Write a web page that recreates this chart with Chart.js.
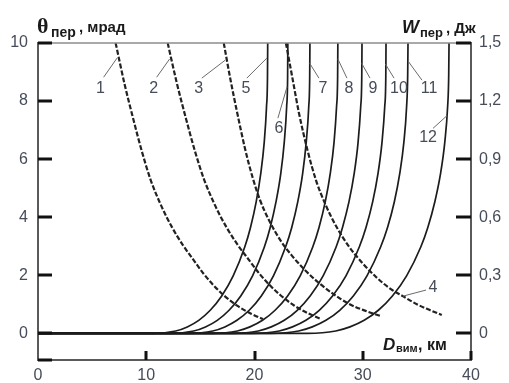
<!DOCTYPE html>
<html>
<head>
<meta charset="utf-8">
<script src="https://cdn.jsdelivr.net/npm/chart.js@4.4.1/dist/chart.umd.min.js"></script>
<style>
  html, body { margin: 0; padding: 0; background: #fff; }
  #wrap { width: 509px; height: 383px; }
</style>
</head>
<body>
<div id="wrap"><canvas id="chart"></canvas></div>
<script>
// Деления осей
const xTicks = [0, 10, 20, 30, 40];               // D вим, км
const thetaTicks = [0, 2, 4, 6, 8, 10];           // θ пер, мрад
const energyTicks = [0, 0.3, 0.6, 0.9, 1.2, 1.5]; // W пер, Дж

// Угол θпер (штриховые, левая ось): [D, θ]
const theta1 = [[7.17,10],[8.0,8.58],[8.83,7.34],[9.6,6.26],[10.41,5.28],[11.4,4.38],[12.4,3.64],[13.4,3.03],[14.38,2.52],[15.3,2.05],[16.2,1.66],[17.16,1.31],[18.4,0.95],[19.6,0.69],[20.77,0.49]];
const theta2 = [[11.98,10],[12.85,8.58],[13.71,7.34],[14.51,6.26],[15.36,5.28],[16.39,4.38],[17.43,3.64],[18.48,3.03],[19.5,2.52],[20.46,2.05],[21.4,1.66],[22.4,1.31],[23.69,0.95],[24.94,0.69],[26.16,0.49]];
const theta3 = [[17.16,10],[17.8,8.7],[18.4,7.6],[19.1,6.4],[19.8,5.4],[20.5,4.6],[21.4,3.85],[22.4,3.2],[23.4,2.7],[24.6,2.2],[25.9,1.75],[27.3,1.35],[28.8,1.0],[30.2,0.78],[31.6,0.6]];
const theta4 = [[22.9,10],[23.5,8.8],[24.1,7.6],[24.9,6.3],[25.7,5.25],[26.6,4.4],[27.6,3.65],[28.7,3.0],[29.9,2.45],[31.2,1.95],[32.6,1.52],[33.7,1.28],[35.0,1.0],[36.2,0.8],[37.3,0.63]];

// Энергия Wпер (сплошные, правая ось): значения W в узлах и дальности D для каждой кривой
const energyW  = [0, 0, 0.012, 0.033, 0.067, 0.119, 0.193, 0.297, 0.446, 0.547, 0.68, 0.826, 0.988, 1.171, 1.329, 1.5];
const range5  = [0, 10.6,  12.72, 13.79, 14.85, 15.91, 16.97, 18.03, 19.10, 19.63, 20.16, 20.58, 20.90, 21.11, 21.20, 21.22];
const range6  = [0, 12.21, 14.38, 15.47, 16.56, 17.65, 18.73, 19.82, 20.91, 21.45, 21.99, 22.43, 22.75, 22.97, 23.06, 23.08];
const range7  = [0, 13.89, 16.14, 17.26, 18.38, 19.51, 20.63, 21.75, 22.87, 23.44, 24.00, 24.45, 24.78, 25.01, 25.10, 25.12];
const range8  = [0, 16.1,  18.42, 19.58, 20.74, 21.90, 23.06, 24.22, 25.38, 25.96, 26.54, 27.00, 27.35, 27.58, 27.68, 27.70];
const range9  = [0, 17.96, 20.35, 21.55, 22.75, 23.95, 25.14, 26.34, 27.54, 28.13, 28.73, 29.21, 29.57, 29.81, 29.91, 29.93];
const range10 = [0, 19.81, 22.28, 23.51, 24.75, 25.98, 27.21, 28.45, 29.68, 30.30, 30.92, 31.41, 31.78, 32.03, 32.13, 32.15];
const range11 = [0, 21.55, 24.08, 25.34, 26.60, 27.87, 29.13, 30.39, 31.65, 32.29, 32.92, 33.42, 33.80, 34.05, 34.15, 34.18];
const range12 = [0, 24.9,  27.51, 28.82, 30.13, 31.44, 32.74, 34.05, 35.36, 36.01, 36.66, 37.19, 37.58, 37.84, 37.94, 37.97];

// Номера кривых: текст, точка подписи и выноска (в единицах D и θ)
const curveLabels = [
  { text: '1',  at: [5.78, 8.44],  from: [6.06, 8.82],  to: [7.3, 9.48] },
  { text: '2',  at: [10.68, 8.44], from: [10.96, 8.82], to: [12.16, 9.45] },
  { text: '3',  at: [14.85, 8.44], from: [15.13, 8.79], to: [17.3, 9.41] },
  { text: '5',  at: [19.2, 8.44],  from: [19.29, 8.79], to: [21.14, 9.48] },
  { text: '6',  at: [22.25, 7.06], from: [22.16, 7.41], to: [23.0, 8.48] },
  { text: '7',  at: [26.32, 8.44], from: [25.95, 8.79], to: [25.1, 9.3] },
  { text: '8',  at: [28.72, 8.44], from: [28.54, 8.79], to: [27.7, 9.45] },
  { text: '9',  at: [30.94, 8.44], from: [30.67, 8.79], to: [29.9, 9.3] },
  { text: '10', at: [33.35, 8.44], from: [32.89, 8.79], to: [32.1, 9.27] },
  { text: '11', at: [36.12, 8.44], from: [35.47, 8.72], to: [34.2, 9.37] },
  { text: '12', at: [36.03, 6.75], from: [36.49, 7.06], to: [37.79, 7.5] },
  { text: '4',  at: [36.49, 1.59], from: [35.85, 1.49], to: [33.72, 1.28] }
];

const LINE = '#1c1c1c';
const TEXT = '#464c58';
const SANS = '"Liberation Sans", Arial, sans-serif';

const toPoints = arr => arr.map(p => ({ x: p[0], y: p[1] }));
const zipPoints = (xs, ys) => xs.map((x, i) => ({ x, y: ys[i] }));

const dashed = (data) => ({
  data: toPoints(data), yAxisID: 'y',
  borderColor: '#222', borderWidth: 2.2, borderDash: [5, 2],
  pointRadius: 0, cubicInterpolationMode: 'monotone'
});
const solid = (xs) => ({
  data: zipPoints(xs, energyW), yAxisID: 'y1',
  borderColor: LINE, borderWidth: 1.7,
  pointRadius: 0, cubicInterpolationMode: 'monotone'
});

const datasets = [
  dashed(theta1), dashed(theta2), dashed(theta3), dashed(theta4),
  solid(range5), solid(range6), solid(range7), solid(range8),
  solid(range9), solid(range10), solid(range11), solid(range12)
];

// Засечки внутрь, верхняя рамка, подписи кривых и осей
const overlay = {
  id: 'overlay',
  afterDatasetsDraw(chart) {
    const { ctx, chartArea: a, scales } = chart;
    const sx = scales.x, sy = scales.y, sy1 = scales.y1;
    ctx.save();

    ctx.strokeStyle = '#8c8c8c';
    ctx.lineWidth = 1.5;
    ctx.beginPath();
    ctx.moveTo(a.left, a.top);
    ctx.lineTo(a.right, a.top);
    ctx.stroke();

    ctx.strokeStyle = '#111';
    ctx.lineWidth = 3;
    ctx.beginPath();
    thetaTicks.forEach(v => {
      const py = Math.round(sy.getPixelForValue(v));
      ctx.moveTo(a.left, py); ctx.lineTo(a.left + 14, py);
    });
    ctx.moveTo(a.left, a.bottom); ctx.lineTo(a.left + 14, a.bottom);
    energyTicks.forEach(v => {
      const py = Math.round(sy1.getPixelForValue(v));
      ctx.moveTo(a.right - 15, py); ctx.lineTo(a.right, py);
    });
    xTicks.slice(1).forEach(v => {
      const px = Math.round(sx.getPixelForValue(v));
      ctx.moveTo(px, a.bottom); ctx.lineTo(px, a.bottom - 9);
    });
    ctx.stroke();

    // выноски и номера
    ctx.strokeStyle = '#6a6a6a';
    ctx.lineWidth = 1;
    ctx.fillStyle = TEXT;
    ctx.font = '16px ' + SANS;
    ctx.textAlign = 'center';
    ctx.textBaseline = 'middle';
    curveLabels.forEach(l => {
      ctx.beginPath();
      ctx.moveTo(sx.getPixelForValue(l.from[0]), sy.getPixelForValue(l.from[1]));
      ctx.lineTo(sx.getPixelForValue(l.to[0]), sy.getPixelForValue(l.to[1]));
      ctx.stroke();
      ctx.fillText(l.text, sx.getPixelForValue(l.at[0]), sy.getPixelForValue(l.at[1]));
    });

    // названия осей
    ctx.fillStyle = '#1a1a1a';
    ctx.textAlign = 'left';
    ctx.textBaseline = 'alphabetic';
    ctx.font = 'bold 22px "Liberation Serif", serif';
    ctx.fillText('θ', a.left - 1, a.top - 10);
    ctx.font = 'bold 14px ' + SANS;
    ctx.fillText('пер', a.left + 13, a.top - 6);
    ctx.font = 'bold 15px ' + SANS;
    ctx.fillText(', мрад', a.left + 41, a.top - 11);

    ctx.font = 'italic bold 18px ' + SANS;
    ctx.fillText('W', a.right - 69, a.top - 10);
    ctx.font = 'bold 13px ' + SANS;
    ctx.fillText('пер', a.right - 51, a.top - 6);
    ctx.font = 'bold 15px ' + SANS;
    ctx.fillText(', Дж', a.right - 25, a.top - 10);

    ctx.font = 'italic bold 17px ' + SANS;
    ctx.fillText('D', a.left + 345, a.bottom - 10);
    ctx.font = 'bold 11px ' + SANS;
    ctx.fillText('вим', a.left + 358, a.bottom - 8);
    ctx.font = 'bold 16px ' + SANS;
    ctx.fillText(', км', a.left + 380, a.bottom - 10);

    ctx.restore();
  }
};

const tickFont = { family: SANS, size: 16 };

new Chart(document.getElementById('chart'), {
  type: 'line',
  data: { datasets },
  options: {
    responsive: true,
    maintainAspectRatio: false,
    animation: false,
    layout: { padding: { top: 43, left: 0, right: 0, bottom: 0 } },
    plugins: { legend: { display: false }, tooltip: { enabled: false } },
    scales: {
      x: {
        type: 'linear', min: 0, max: 40,
        afterBuildTicks: s => { s.ticks = xTicks.map(v => ({ value: v })); },
        afterFit: s => { s.height = 23; },
        grid: { display: false, drawTicks: false },
        border: { display: true, color: '#5a5a5a', width: 2 },
        ticks: { autoSkip: false, maxRotation: 0, padding: 6, color: TEXT, font: tickFont,
                 callback: v => String(v) }
      },
      y: {
        position: 'left', min: -0.92, max: 10,
        afterBuildTicks: s => { s.ticks = thetaTicks.map(v => ({ value: v })); },
        afterFit: s => { s.width = 38; },
        grid: { display: false, drawTicks: false },
        border: { display: true, color: '#5a5a5a', width: 2 },
        ticks: { autoSkip: false, padding: 10, color: TEXT, font: tickFont,
                 callback: v => String(v) }
      },
      y1: {
        position: 'right', min: -0.138, max: 1.5,
        afterBuildTicks: s => { s.ticks = energyTicks.map(v => ({ value: v })); },
        afterFit: s => { s.width = 38; },
        grid: { display: false, drawTicks: false },
        border: { display: true, color: '#5a5a5a', width: 2 },
        ticks: { autoSkip: false, padding: 8, color: TEXT, font: tickFont,
                 callback: v => v === 0 ? '0' : v.toFixed(1).replace('.', ',') }
      }
    }
  },
  plugins: [overlay]
});
</script>
</body>
</html>
